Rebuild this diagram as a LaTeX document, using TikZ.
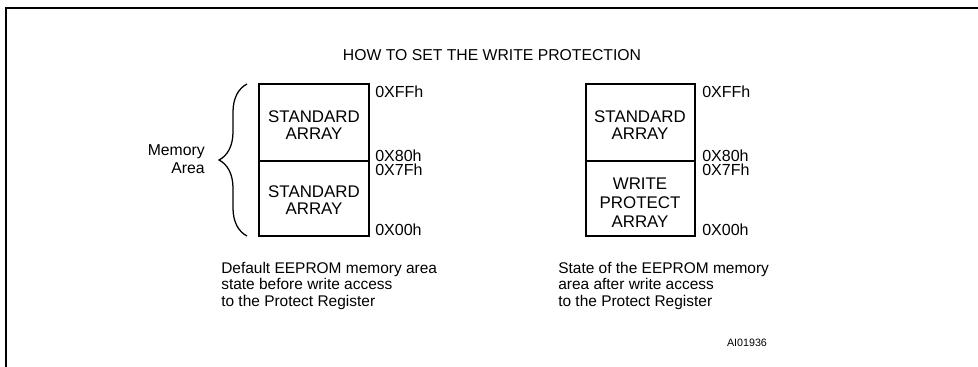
\documentclass[tikz,border=0pt]{standalone}
\usepackage{fontspec}
\setmainfont{Liberation Sans}
\usetikzlibrary{decorations.pathreplacing}

\begin{document}
\begin{tikzpicture}[x=.025cm,y=-.025cm,
    heading/.style={font=\fontsize{11.2}{13}\selectfont},
    cell/.style={font=\fontsize{12}{11.7}\selectfont, align=center,
      inner sep=0pt},
    addr/.style={font=\fontsize{11.4}{12}\selectfont, anchor=west,
      inner sep=0pt},
    note/.style={font=\fontsize{11}{11.6}\selectfont, align=left,
      anchor=north west, inner sep=0pt},
    frame/.style={line width=1.5pt},
    block/.style={line width=1.1pt}]
  \useasboundingbox (0,0) rectangle (978,367);
  \draw[frame] (6,367) -- (6,8) -- (978,8);

  \node[heading] (title) at (492,55) {HOW TO SET THE WRITE PROTECTION};

  % default state
  \draw[block] (259,84) rectangle (369,236);
  \draw[block] (259,161) -- (369,161);
  \node[cell] (stdHigh) at (314,125) {STANDARD\\ARRAY};
  \node[cell] (stdLow) at (314,200) {STANDARD\\ARRAY};
  \node[addr] (ffLeft) at (375,92) {0XFFh};
  \node[addr] (eightyLeft) at (375,155.5) {0X80h};
  \node[addr] (sevenLeft) at (375,170) {0X7Fh};
  \node[addr] (zeroLeft) at (375,230) {0X00h};
  \draw[line width=.9pt, decorate, decoration={brace, amplitude=.7cm}]
    (247,236) -- (247,84);
  \node[font=\fontsize{11.2}{12.5}\selectfont, align=right, anchor=east,
    inner sep=0pt] (memory) at (205,159) {Memory\\Area};
  \node[note] (before) at (221,262)
    {Default EEPROM memory area\\state before write access\\to the Protect Register};

  % after write access
  \draw[block] (586,84) rectangle (695,236);
  \draw[block] (586,161) -- (695,161);
  \node[cell] (stdRight) at (640,125) {STANDARD\\ARRAY};
  \node[cell, font=\fontsize{12}{13.5}\selectfont] (protect) at (640,203)
    {WRITE\\PROTECT\\ARRAY};
  \node[addr] (ffRight) at (702,92) {0XFFh};
  \node[addr] (eightyRight) at (702,155.5) {0X80h};
  \node[addr] (sevenRight) at (702,170) {0X7Fh};
  \node[addr] (zeroRight) at (702,230) {0X00h};
  \node[note] (after) at (558,262)
    {State of the EEPROM memory\\area after write access\\to the Protect Register};

  \node[font=\fontsize{7.6}{9}\selectfont] (figcode) at (747,343) {AI01936};
\end{tikzpicture}
\end{document}
